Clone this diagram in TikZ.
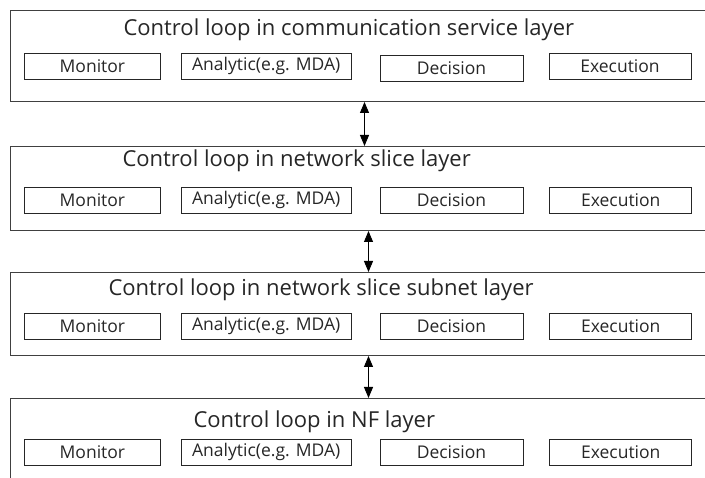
\documentclass[tikz,border=0pt]{standalone}
\usepackage{fontspec}
\setmainfont{Open Sans}
\usetikzlibrary{positioning,arrows.meta}

\begin{document}
\begin{tikzpicture}[>={Triangle[length=11pt,width=9pt]},line width=1pt,
    layer/.style={draw=black!75,line width=1pt,anchor=north west,inner sep=0pt,minimum width=716pt},
    title/.style={anchor=west,inner sep=0pt,text=black!85,font=\fontsize{22}{22}\selectfont},
    part/.style={draw=black!85,line width=0.8pt,inner sep=0pt,minimum height=26pt,text=black!85,font=\fontsize{17.5}{17.5}\selectfont}]
    \useasboundingbox (0,0) rectangle (705pt,-478pt);
    \clip (0,0) rectangle (705pt,-478pt);

    % communication service layer
    \node[layer,minimum width=708pt,minimum height=91pt] (cs) at (10pt,-10pt) {};
    \node[title] (cs title) at (123pt,-30pt) {Control loop in communication service layer};
    \node[part,minimum width=136pt,anchor=north west] (cs mon) at (24pt,-53pt) {Monitor};
    \node[part,minimum width=170pt,right=20pt of cs mon] (cs ana) {Analytic(e.g. MDA)};
    \node[part,minimum width=143pt,right=28pt of cs ana,yshift=-2pt] (cs dec) {Decision};
    \node[part,minimum width=142pt,right=26pt of cs ana,xshift=171pt] (cs exe) {Execution};

    % network slice layer
    \node[layer,minimum height=84pt] (ns) at (10pt,-146pt) {};
    \node[title] (ns title) at (122pt,-161pt) {Control loop in network slice layer};
    \node[part,minimum width=136pt,anchor=north west] (ns mon) at (24pt,-187pt) {Monitor};
    \node[part,minimum width=170pt,right=20pt of ns mon] (ns ana) {Analytic(e.g. MDA)};
    \node[part,minimum width=143pt,right=28pt of ns ana] (ns dec) {Decision};
    \node[part,minimum width=142pt,right=26pt of ns dec] (ns exe) {Execution};

    % network slice subnet layer
    \node[layer,minimum height=83pt] (nss) at (10pt,-272pt) {};
    \node[title] (nss title) at (108pt,-290pt) {Control loop in network slice subnet layer};
    \node[part,minimum width=136pt,anchor=north west] (nss mon) at (24pt,-313pt) {Monitor};
    \node[part,minimum width=170pt,right=20pt of nss mon] (nss ana) {Analytic(e.g. MDA)};
    \node[part,minimum width=143pt,right=28pt of nss ana] (nss dec) {Decision};
    \node[part,minimum width=142pt,right=26pt of nss dec] (nss exe) {Execution};

    % NF layer
    \node[layer,minimum height=200pt] (nf) at (10pt,-398pt) {};
    \node[title] (nf title) at (193pt,-422pt) {Control loop in NF layer};
    \node[part,minimum width=136pt,anchor=north west] (nf mon) at (24pt,-439pt) {Monitor};
    \node[part,minimum width=170pt,right=20pt of nf mon] (nf ana) {Analytic(e.g. MDA)};
    \node[part,minimum width=143pt,right=28pt of nf ana] (nf dec) {Decision};
    \node[part,minimum width=142pt,right=26pt of nf dec] (nf exe) {Execution};

    \draw[<->] (cs.south) -- (cs.south |- ns.north);
    \draw[<->] (ns.south) -- (ns.south |- nss.north);
    \draw[<->] (nss.south) -- (nss.south |- nf.north);
\end{tikzpicture}
\end{document}
